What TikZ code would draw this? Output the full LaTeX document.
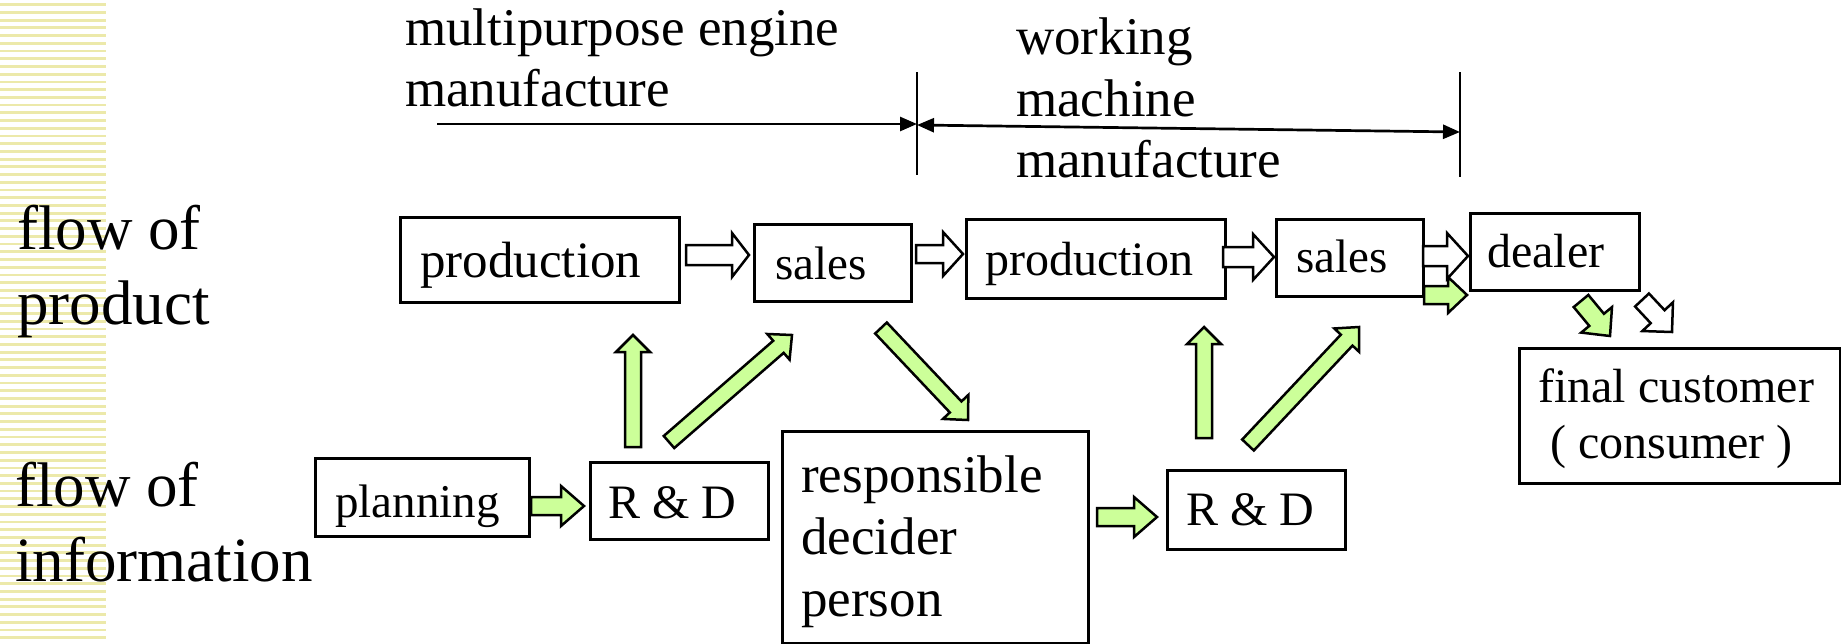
\documentclass[tikz,border=0pt]{standalone}
\usepackage{fontspec}
\setmainfont{Liberation Serif}
\usetikzlibrary{calc,arrows.meta}
\definecolor{stripe}{RGB}{236,233,170}
\definecolor{leaf}{RGB}{204,255,153}
\newcommand\tfs[1]{\fontsize{#1}{#1}\selectfont}
% block arrow: #1 style, #2 tail, #3 tip, #4 half shaft width, #5 half head width, #6 head length
\newcommand\blockarrow[6]{%
  \coordinate (ba-n) at ($(#3)!#6!(#2)$);
  \draw[#1] ($(#2)!#4!90:(#3)$) -- ($(ba-n)!#4!90:(#3)$) -- ($(ba-n)!#5!90:(#3)$)
    -- (#3) -- ($(ba-n)!#5!-90:(#3)$) -- ($(ba-n)!#4!-90:(#3)$) -- ($(#2)!#4!-90:(#3)$) -- cycle;
}
\begin{document}
\begin{tikzpicture}[x=1pt,y=-1pt,
  box/.style={draw,line width=3pt,inner sep=0,anchor=north west},
  lbl/.style={inner sep=0,anchor=base west},
  hollow/.style={draw,fill=white,line width=2.5pt,line join=miter},
  green/.style={draw,fill=leaf,line width=2.5pt,line join=miter},
  rule/.style={line width=2pt},
  span/.style={line width=2.7pt},
  tri/.tip={Triangle[length=17pt,width=14pt]}]
\useasboundingbox (0,0) rectangle (1841,643);

% striped margin
\foreach \i in {0,...,83}
  \fill[stripe] (0,{3.3+7.72*\i}) rectangle (106,{6.1+7.72*\i});

% row labels
\node[lbl,font=\tfs{63}] (fp1) at (17,249) {flow of};
\node[lbl,font=\tfs{63}] (fp2) at (17,324) {product};
\node[lbl,font=\tfs{63}] (fi1) at (15,506) {flow of};
\node[lbl,font=\tfs{63}] (fi2) at (15,581) {information};

% stage headings
\node[lbl,font=\tfs{53}] (h1a) at (405,45) {multipurpose engine};
\node[lbl,font=\tfs{53}] (h1b) at (405,106) {manufacture};
\node[lbl,font=\tfs{53}] (h2a) at (1016,54) {working};
\node[lbl,font=\tfs{53}] (h2b) at (1016,116) {machine};
\node[lbl,font=\tfs{53}] (h2c) at (1016,177) {manufacture};

% stage boundaries and spans
\coordinate (v1t) at (917,72);   \coordinate (v1b) at (917,175);
\coordinate (v2t) at (1460,72);  \coordinate (v2b) at (1460,177);
\coordinate (s1a) at (437,124);  \coordinate (s1b) at (917,124);
\coordinate (s2a) at (917,125);  \coordinate (s2b) at (1460,132);
\draw[rule] (v1t) -- (v1b);
\draw[rule] (v2t) -- (v2b);
\draw[span,-tri] (s1a) -- (s1b);
\draw[span,tri-tri] (s2a) -- (s2b);

% boxes
\node[box,minimum width=279pt,minimum height=85pt] (prod1) at (399,216) {};
\node[box,minimum width=157pt,minimum height=77pt] (sales1) at (753,223) {};
\node[box,minimum width=259pt,minimum height=79pt] (prod2) at (965,218) {};
\node[box,minimum width=147pt,minimum height=77pt] (sales2) at (1275,218) {};
\node[box,minimum width=169pt,minimum height=77pt] (dealer) at (1469,212) {};
\node[box,minimum width=321pt,minimum height=135pt] (final) at (1518,347) {};
\node[box,minimum width=214pt,minimum height=78pt] (plan) at (314,457) {};
\node[box,minimum width=178pt,minimum height=77pt] (rd1) at (589,461) {};
\node[box,minimum width=306pt,minimum height=212pt] (resp) at (781,430) {};
\node[box,minimum width=178pt,minimum height=79pt] (rd2) at (1166,469) {};

% box texts
\node[lbl,font=\tfs{51}] (prod1-t) at (420,277) {production};
\node[lbl,font=\tfs{47}] (sales1-t) at (775,279) {sales};
\node[lbl,font=\tfs{48}] (prod2-t) at (985,275) {production};
\node[lbl,font=\tfs{47}] (sales2-t) at (1296,272) {sales};
\node[lbl,font=\tfs{48}] (dealer-t) at (1487,267) {dealer};
\node[lbl,font=\tfs{48}] (final-a) at (1538,402) {final customer};
\node[lbl,font=\tfs{48}] (final-b) at (1550,458) {( consumer )};
\node[lbl,font=\tfs{47}] (plan-t) at (335,517) {planning};
\node[lbl,font=\tfs{48}] (rd1-t) at (608,518) {R \& D};
\node[lbl,font=\tfs{53}] (resp-a) at (801,492) {responsible};
\node[lbl,font=\tfs{53}] (resp-b) at (801,554) {decider};
\node[lbl,font=\tfs{53}] (resp-c) at (801,616) {person};
\node[lbl,font=\tfs{48}] (rd2-t) at (1186,525) {R \& D};

% arrow end points
\coordinate (a1s) at (686,255);   \coordinate (a1e) at (749,255);
\coordinate (a2s) at (916,254);   \coordinate (a2e) at (963,254);
\coordinate (a3s) at (1223,257);  \coordinate (a3e) at (1274,257);
\coordinate (a4s) at (1423,256);  \coordinate (a4e) at (1468,256);
\coordinate (a5s) at (1642,300);  \coordinate (a5e) at (1672,332);
\coordinate (g1s) at (1424,295);  \coordinate (g1e) at (1467,295);
\coordinate (g2s) at (1581,301);  \coordinate (g2e) at (1610,336);
\coordinate (g3s) at (633,447);   \coordinate (g3e) at (633,335);
\coordinate (g4s) at (669,442);   \coordinate (g4e) at (792,335);
\coordinate (g5s) at (881,328);   \coordinate (g5e) at (968,420);
\coordinate (g6s) at (1204,438);  \coordinate (g6e) at (1204,327);
\coordinate (g7s) at (1248,445);  \coordinate (g7e) at (1359,327);
\coordinate (g8s) at (531,506);   \coordinate (g8e) at (584,506);
\coordinate (g9s) at (1097,517);  \coordinate (g9e) at (1157,517);

% flow of product
\blockarrow{hollow}{a1s}{a1e}{10pt}{22pt}{17pt}
\blockarrow{hollow}{a2s}{a2e}{9pt}{22pt}{20pt}
\blockarrow{hollow}{a3s}{a3e}{10pt}{23pt}{21pt}
\blockarrow{hollow}{a4s}{a4e}{10pt}{23pt}{21pt}
\blockarrow{hollow}{a5s}{a5e}{9.5pt}{21pt}{21pt}

% flow of information
\blockarrow{green}{g1s}{g1e}{9pt}{18pt}{19pt}
\blockarrow{green}{g2s}{g2e}{9.5pt}{20pt}{21pt}
\blockarrow{green}{g3s}{g3e}{8pt}{17pt}{17pt}
\blockarrow{green}{g4s}{g4e}{8pt}{17pt}{18pt}
\blockarrow{green}{g5s}{g5e}{8pt}{17.5pt}{18pt}
\blockarrow{green}{g6s}{g6e}{8pt}{17pt}{17pt}
\blockarrow{green}{g7s}{g7e}{8pt}{17pt}{18pt}
\blockarrow{green}{g8s}{g8e}{9pt}{20pt}{23pt}
\blockarrow{green}{g9s}{g9e}{9pt}{20pt}{23pt}
\end{tikzpicture}
\end{document}
